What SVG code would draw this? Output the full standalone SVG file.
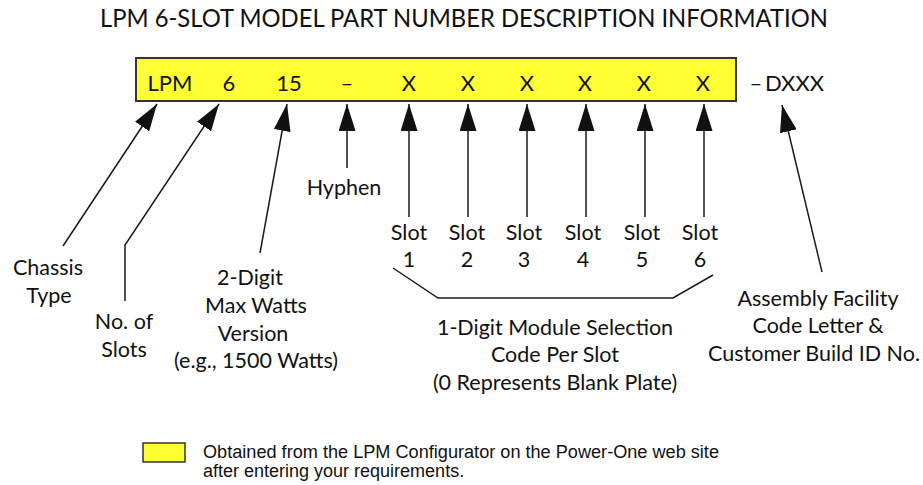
<svg xmlns="http://www.w3.org/2000/svg" width="923" height="485" viewBox="0 0 923 485">
<style>
.t{font-family:Lato,"Open Sans","Liberation Sans",sans-serif;fill:#111;}
.lbl{font-size:21.5px;text-anchor:middle;}
.box{font-size:22px;text-anchor:middle;}
.leg{font-family:"Liberation Sans",Arial,sans-serif;font-size:18px;fill:#111;}
.ln{fill:none;stroke:#1a1a1a;stroke-width:1.5;}
</style>
<defs>
<marker id="ah" markerUnits="userSpaceOnUse" markerWidth="28" markerHeight="17" viewBox="0 0 28 17" refX="27" refY="8.5" orient="auto">
<path d="M0,0 L27,8.5 L0,17 Z" fill="#111"/>
</marker>
</defs>
<rect width="923" height="485" fill="#fff"/>
<text class="t" x="464" y="27" font-size="25" text-anchor="middle" textLength="728" lengthAdjust="spacingAndGlyphs">LPM 6-SLOT MODEL PART NUMBER DESCRIPTION INFORMATION</text>

<g id="partnumber">
<rect x="136" y="58" width="600" height="43" fill="#ffff33" stroke="#333" stroke-width="2"/>
<text class="t box" x="170" y="91">LPM</text>
<text class="t box" x="229" y="91">6</text>
<text class="t box" x="289" y="91">15</text>
<text class="t box" x="347" y="91" font-size="24">–</text>
<text class="t box" x="409" y="91">X</text>
<text class="t box" x="468" y="91">X</text>
<text class="t box" x="527" y="91">X</text>
<text class="t box" x="585" y="91">X</text>
<text class="t box" x="644" y="91">X</text>
<text class="t box" x="703" y="91">X</text>
<text class="t box" x="756" y="91">–</text>
<text class="t" x="765" y="91" font-size="22">DXXX</text>
</g>

<g id="connectors">
<line class="ln" x1="63" y1="246" x2="157" y2="104" marker-end="url(#ah)"/>
<polyline class="ln" points="125,301 125,245 219,104" marker-end="url(#ah)"/>
<line class="ln" x1="260" y1="253" x2="287" y2="104" marker-end="url(#ah)"/>
<line class="ln" x1="347" y1="168" x2="347" y2="104" marker-end="url(#ah)"/>
<line class="ln" x1="409" y1="217" x2="409" y2="104" marker-end="url(#ah)"/>
<line class="ln" x1="468" y1="217" x2="468" y2="104" marker-end="url(#ah)"/>
<line class="ln" x1="527" y1="217" x2="527" y2="104" marker-end="url(#ah)"/>
<line class="ln" x1="586" y1="217" x2="586" y2="104" marker-end="url(#ah)"/>
<line class="ln" x1="645" y1="217" x2="645" y2="104" marker-end="url(#ah)"/>
<line class="ln" x1="704" y1="217" x2="704" y2="104" marker-end="url(#ah)"/>
<line class="ln" x1="822" y1="272" x2="782" y2="105" marker-end="url(#ah)"/>
<polyline class="ln" points="393,268 438,298 673,298 713,275"/>
</g>

<g id="chassis"><text class="t lbl" x="48" y="275">Chassis</text><text class="t lbl" x="49" y="303">Type</text></g>
<g id="slots"><text class="t lbl" x="124" y="329">No. of</text><text class="t lbl" x="124" y="357">Slots</text></g>
<g id="watts"><text class="t lbl" x="250" y="285">2-Digit</text><text class="t lbl" x="256" y="313">Max Watts</text><text class="t lbl" x="253" y="341">Version</text><text class="t lbl" x="256" y="368">(e.g., 1500 Watts)</text></g>
<g id="hyphen"><text class="t lbl" x="344" y="195">Hyphen</text></g>
<g id="slot1"><text class="t lbl" x="409" y="240">Slot</text><text class="t lbl" x="409" y="267">1</text></g>
<g id="slot2"><text class="t lbl" x="467" y="240">Slot</text><text class="t lbl" x="467" y="267">2</text></g>
<g id="slot3"><text class="t lbl" x="524" y="240">Slot</text><text class="t lbl" x="524" y="267">3</text></g>
<g id="slot4"><text class="t lbl" x="583" y="240">Slot</text><text class="t lbl" x="583" y="267">4</text></g>
<g id="slot5"><text class="t lbl" x="642" y="240">Slot</text><text class="t lbl" x="642" y="267">5</text></g>
<g id="slot6"><text class="t lbl" x="700" y="240">Slot</text><text class="t lbl" x="700" y="267">6</text></g>
<g id="module"><text class="t lbl" x="555" y="335">1-Digit Module Selection</text><text class="t lbl" x="555" y="362">Code Per Slot</text><text class="t lbl" x="555" y="390">(0 Represents Blank Plate)</text></g>
<g id="assembly"><text class="t lbl" x="818" y="306">Assembly Facility</text><text class="t lbl" x="818" y="333">Code Letter &amp;</text><text class="t lbl" x="814" y="361">Customer Build ID No.</text></g>

<g id="legend">
<rect x="143" y="443" width="42" height="19" fill="#ffff33" stroke="#333" stroke-width="1.5"/>
<text class="leg" x="203" y="458" textLength="516" lengthAdjust="spacingAndGlyphs">Obtained from the LPM Configurator on the Power-One web site</text>
<text class="leg" x="203" y="477">after entering your requirements.</text>
</g>
</svg>
